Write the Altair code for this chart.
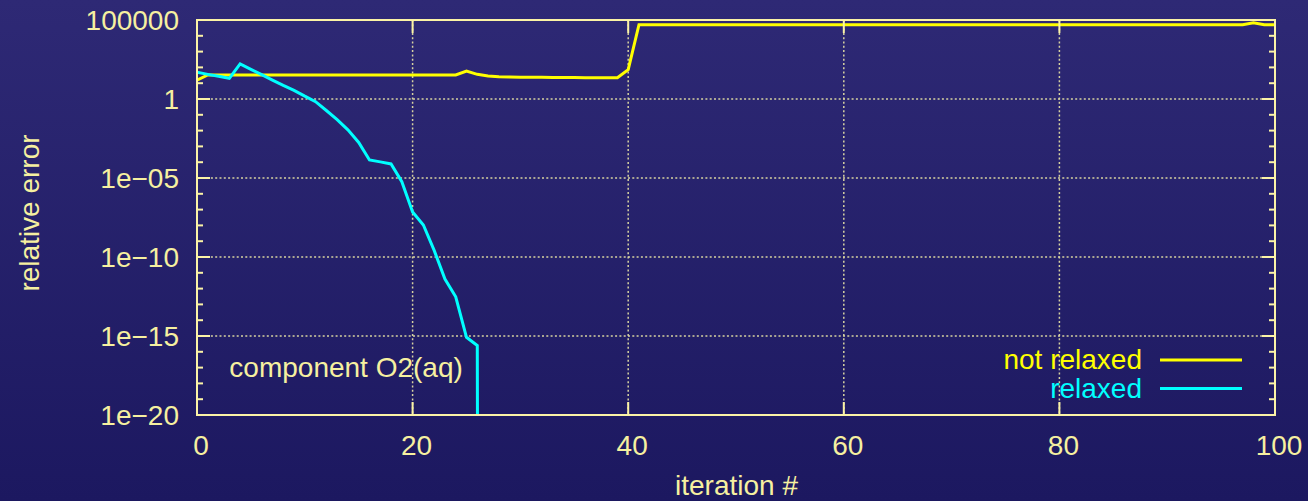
import altair as alt
import pandas as pd

# ---------------- data (log10 of relative error) ----------------
not_relaxed_iter = list(range(0, 101))
not_relaxed_exp = [
    1.20,
    1.52, 1.52, 1.52, 1.52, 1.52, 1.52, 1.52, 1.52, 1.52, 1.52, 1.52, 1.52,
    1.52, 1.52, 1.52, 1.52, 1.52, 1.52, 1.52, 1.52, 1.52, 1.52, 1.52, 1.52,
    1.77, 1.56, 1.46, 1.41, 1.39, 1.38, 1.37, 1.37, 1.36, 1.36, 1.36, 1.35,
    1.35, 1.35, 1.35, 1.86,
    4.70, 4.70, 4.70, 4.70, 4.70, 4.70, 4.70, 4.70, 4.70, 4.70, 4.70, 4.70,
    4.70, 4.70, 4.70, 4.70, 4.70, 4.70, 4.70, 4.70, 4.70, 4.70, 4.70, 4.70,
    4.70, 4.70, 4.70, 4.70, 4.70, 4.70, 4.70, 4.70, 4.70, 4.70, 4.70, 4.70,
    4.70, 4.70, 4.70, 4.70, 4.70, 4.70, 4.70, 4.70, 4.70, 4.70, 4.70, 4.70,
    4.70, 4.70, 4.70, 4.70, 4.70, 4.70, 4.70, 4.70, 4.70,
    4.82, 4.70, 4.70,
]
relaxed_iter = list(range(0, 28))
relaxed_exp = [
    1.69, 1.56, 1.44, 1.31, 2.22, 1.88, 1.54, 1.20, 0.86, 0.55, 0.18,
    -0.17, -0.73, -1.30, -1.95, -2.75, -3.86, -3.98, -4.11, -5.23, -7.15,
    -7.97, -9.58, -11.40, -12.52, -15.08, -15.60, -300.0,
]

series_names = ["not relaxed", "relaxed"]
series_colors = ["#ffff00", "#00ffff"]

x_ticks = [0, 20, 40, 60, 80, 100]
x_tick_labels = ["0", "20", "40", "60", "80", "100"]
x_grid = [20, 40, 60, 80]
y_tick_exponents = [5, 0, -5, -10, -15, -20]
y_tick_labels = ["100000", "1", "1e\u221205", "1e\u221210", "1e\u221215", "1e\u221220"]
y_grid_exponents = [0, -5, -10, -15]
y_minor_exponents = [4, 3, 2, 1, -1, -2, -3, -4, -6, -7, -8, -9, -11, -12, -13, -14,
                     -16, -17, -18, -19]
x_title = "iteration #"
y_title = "relative error"

annotation_text = ["component O2(aq)"]
annotation_x = [3.0]
annotation_exp = [-17.58]

# ---------------- styling ----------------
W, H = 1078, 395
PAD = {"left": 197, "top": 20, "right": 33, "bottom": 86}
FONT = "Liberation Sans"
FS = 28
text_color = "#f6f0a0"
axis_color = "#fbf3a6"
grid_color = "#d6d2a0"

xs = alt.Scale(domain=[0, 100], nice=False, zero=False)
ys = alt.Scale(type="log", domain=[1e-20, 1e5], nice=False)

rows = []
for i, e in zip(not_relaxed_iter, not_relaxed_exp):
    rows.append({"iter": i, "err": 10.0 ** e, "series": series_names[0]})
for i, e in zip(relaxed_iter, relaxed_exp):
    rows.append({"iter": i, "err": 10.0 ** e, "series": series_names[1]})
df = pd.DataFrame(rows)

one = pd.DataFrame({"a": [0]})


def X(field):
    return alt.X(field, type="quantitative", scale=xs, axis=None)


def Y(field):
    return alt.Y(field, type="quantitative", scale=ys, axis=None)


# background gradient over the whole canvas
bg = alt.Chart(one).mark_rect(
    clip=False,
    fill=alt.LinearGradient(
        gradient="linear",
        stops=[alt.GradientStop(color="#2e2975", offset=0),
               alt.GradientStop(color="#1c1860", offset=1)],
        x1=0, x2=0, y1=0, y2=1,
    ),
).encode(
    x=alt.value(-PAD["left"]), x2=alt.value(W + PAD["right"]),
    y=alt.value(-PAD["top"]), y2=alt.value(H + PAD["bottom"]),
)

# grids
gx = alt.Chart(pd.DataFrame({"x": x_grid})).mark_rule(
    color=grid_color, strokeDash=[2, 2.3], strokeWidth=1.5
).encode(x=X("x"))
gy = alt.Chart(pd.DataFrame({"y": [10.0 ** e for e in y_grid_exponents]})).mark_rule(
    color=grid_color, strokeDash=[2, 2.3], strokeWidth=1.5
).encode(y=Y("y"))

# data lines
lines = alt.Chart(df).mark_line(strokeWidth=3, clip=True).encode(
    x=X("iter"),
    y=Y("err"),
    color=alt.Color("series:N", scale=alt.Scale(domain=series_names, range=series_colors),
                    legend=None),
    order="iter:Q",
)

# inward ticks
ymaj = pd.DataFrame({"y": [10.0 ** e for e in y_tick_exponents]})
ymin = pd.DataFrame({"y": [10.0 ** e for e in y_minor_exponents]})
xmaj = pd.DataFrame({"x": x_ticks})
tick_layers = []
for dfr, L in ((ymaj, 13), (ymin, 6)):
    tick_layers.append(alt.Chart(dfr).mark_rule(color=axis_color, strokeWidth=2).encode(
        y=Y("y"), x=alt.value(0), x2=alt.value(L)))
    tick_layers.append(alt.Chart(dfr).mark_rule(color=axis_color, strokeWidth=2).encode(
        y=Y("y"), x=alt.value(W - L), x2=alt.value(W)))
tick_layers.append(alt.Chart(xmaj).mark_rule(color=axis_color, strokeWidth=2).encode(
    x=X("x"), y=alt.value(H - 13), y2=alt.value(H)))
tick_layers.append(alt.Chart(xmaj).mark_rule(color=axis_color, strokeWidth=2).encode(
    x=X("x"), y=alt.value(0), y2=alt.value(13)))

# frame
frame = alt.Chart(one).mark_rect(fillOpacity=0, stroke=axis_color, strokeWidth=2).encode(
    x=alt.value(0), x2=alt.value(W), y=alt.value(0), y2=alt.value(H))

# tick labels and titles as text marks
xlab = alt.Chart(pd.DataFrame({"x": x_ticks, "t": x_tick_labels})).mark_text(
    font=FONT, fontSize=FS, color=text_color, align="center", baseline="alphabetic",
    dx=4, clip=False,
).encode(x=X("x"), y=alt.value(H + 39.5), text="t:N")
ylab = alt.Chart(pd.DataFrame({"y": [10.0 ** e for e in y_tick_exponents],
                               "t": y_tick_labels})).mark_text(
    font=FONT, fontSize=FS, color=text_color, align="right", baseline="alphabetic",
    dy=10, clip=False,
).encode(y=Y("y"), x=alt.value(-18), text="t:N")
xtit = alt.Chart(pd.DataFrame({"t": [x_title]})).mark_text(
    font=FONT, fontSize=FS, color=text_color, align="center", baseline="alphabetic",
).encode(x=alt.value(W / 2 + 0.5), y=alt.value(H + 80), text="t:N")
ytit = alt.Chart(pd.DataFrame({"t": [y_title]})).mark_text(
    font=FONT, fontSize=FS, color=text_color, align="center", baseline="alphabetic",
    angle=270,
).encode(x=alt.value(-158.5), y=alt.value(193), text="t:N")

# annotation
ann = alt.Chart(pd.DataFrame({"x": annotation_x, "y": [10.0 ** e for e in annotation_exp],
                              "t": annotation_text})).mark_text(
    font=FONT, fontSize=FS, color=text_color, align="left", baseline="alphabetic"
).encode(x=X("x"), y=Y("y"), text="t:N")

# manual legend (labels left of line samples)
legend_layers = []
for k, (name, col) in enumerate(zip(series_names, series_colors)):
    ldf = pd.DataFrame({"label": [name]})
    legend_layers.append(alt.Chart(ldf).mark_text(
        font=FONT, fontSize=FS, color=col, align="right", baseline="alphabetic"
    ).encode(x=alt.value(945), y=alt.value(349.3 + 29 * k), text="label:N"))
    legend_layers.append(alt.Chart(ldf).mark_rule(color=col, strokeWidth=3).encode(
        x=alt.value(963), x2=alt.value(1045), y=alt.value(340 + 28.5 * k)))

chart = alt.layer(bg, gx, gy, lines, *tick_layers, frame, xlab, ylab, xtit, ytit, ann,
                  *legend_layers).properties(
    width=W, height=H, padding=PAD, autosize=alt.AutoSizeParams(type="none"),
    background="#25216a",
).configure_view(strokeWidth=0)

chart.save("out.html", embed_options={"renderer": "svg", "actions": False})
